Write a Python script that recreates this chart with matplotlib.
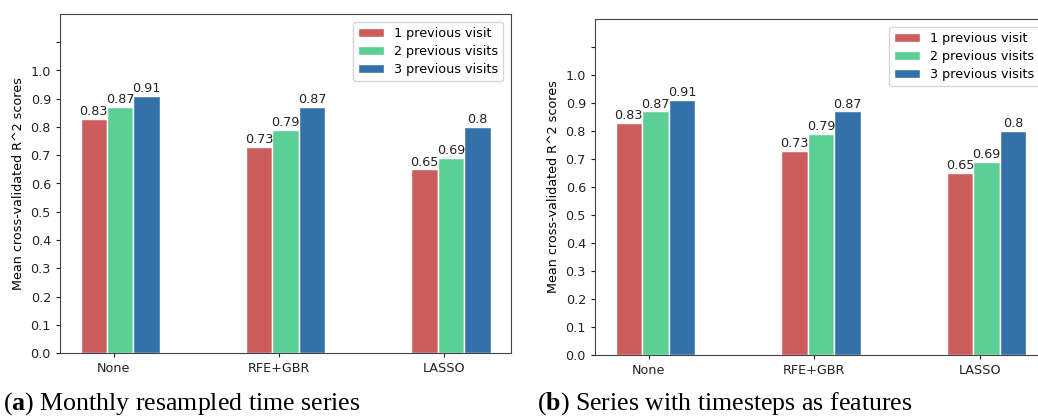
import numpy as np
import matplotlib
matplotlib.use("Agg")
import matplotlib.pyplot as plt

plt.rcParams["mathtext.fontset"] = "custom"
plt.rcParams["mathtext.rm"] = "Liberation Serif"
plt.rcParams["mathtext.bf"] = "Liberation Serif:bold"

methods = ["None", "RFE+GBR", "LASSO"]
series_labels = ["1 previous visit", "2 previous visits", "3 previous visits"]

# panel (a): monthly resampled
a_one = [0.83, 0.73, 0.65]
a_two = [0.87, 0.79, 0.69]
a_three = [0.91, 0.87, 0.8]

# panel (b): timesteps as features
b_one = [0.83, 0.73, 0.65]
b_two = [0.87, 0.79, 0.69]
b_three = [0.91, 0.87, 0.8]

colors = ["#cd5c5c", "#5ccf96", "#3470aa"]
captions = [("a", "Monthly resampled time series"),
            ("b", "Series with timesteps as features")]

FS = 9.2
W, H = 1038, 419


def draw_panel(ax, vals):
    x = np.arange(len(methods))
    w = 0.16
    offs = [-0.12, 0.04, 0.20]
    for v, o, c, lab in zip(vals, offs, colors, series_labels):
        bars = ax.bar(x + o, v, w, color=c, edgecolor="white", linewidth=1.0, label=lab)
        for b, val in zip(bars, v):
            ax.text(b.get_x() + b.get_width() / 2, val + 0.003, str(val),
                    ha="center", va="bottom", fontsize=FS, color="#222222")
    ax.set_xticks(x)
    ax.set_xticklabels(methods, fontsize=FS)
    ticks = np.round(np.arange(0, 1.15, 0.1), 1)
    ax.set_yticks(ticks)
    ax.set_yticklabels([f"{t:.1f}" for t in ticks[:-1]] + [""], fontsize=FS)
    ax.set_ylim(0, 1.2)
    ax.set_ylabel("Mean cross-validated R^2 scores", fontsize=FS)
    ax.tick_params(length=3, width=0.8, colors="#222222")
    for s in ax.spines.values():
        s.set_color("#444444")
    ax.legend(loc="upper right", fontsize=FS, handlelength=2.0,
              borderaxespad=0.6, labelspacing=0.4)


fig = plt.figure(figsize=(W / 100, H / 100), dpi=100)
ax1 = fig.add_axes([60 / W, (H - 353) / H, 451 / W, 339 / H])
ax2 = fig.add_axes([595 / W, (H - 355) / H, 452 / W, 336 / H])
draw_panel(ax1, [a_one, a_two, a_three])
draw_panel(ax2, [b_one, b_two, b_three])

for xpos, (tag, cap) in zip([3, 537], captions):
    fig.text(xpos / W, 9 / H, "($\\mathbf{" + tag + "}$) " + cap, fontsize=18.6,
             family="Liberation Serif", ha="left", va="baseline")

fig.savefig("out.png", dpi=100)
